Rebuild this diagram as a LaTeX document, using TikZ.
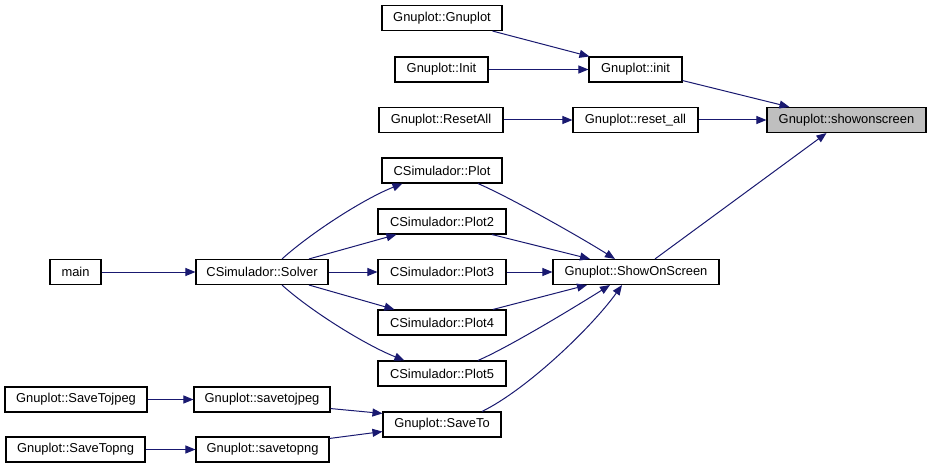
\documentclass[tikz,border=0pt]{standalone}
\usepackage{fontspec}
\setmainfont{Liberation Sans}
\usetikzlibrary{arrows.meta,calc}
\definecolor{edgeblue}{HTML}{191970}
\definecolor{hilite}{HTML}{BFBFBF}
\begin{document}
\begin{tikzpicture}[x=1pt,y=-1pt,
  fn/.style={draw=black,fill=white,line width=1.1pt,inner sep=0pt,minimum height=25pt,
    font=\fontsize{12.9}{15}\selectfont},
  edge/.style={draw=edgeblue,line width=1pt,-{Triangle[length=10pt,width=8pt]}}]
\useasboundingbox (0,0) rectangle (931,468);
% nodes
\node[fn,minimum width=120pt] (gg) at (442,18) {Gnuplot::Gnuplot};
\node[fn,minimum width=93pt] (gi) at (441.5,69.5) {Gnuplot::Init};
\node[fn,minimum width=93pt] (ginit) at (635.5,69.5) {Gnuplot::init};
\node[fn,minimum width=124pt] (gra) at (441,120) {Gnuplot::ResetAll};
\node[fn,minimum width=125pt] (grall) at (635.5,120) {Gnuplot::reset\_all};
\node[fn,minimum width=159pt,fill=hilite] (gsos) at (846.5,120) {Gnuplot::showonscreen};
\node[fn,minimum width=120pt] (p1) at (442,170.5) {CSimulador::Plot};
\node[fn,minimum width=128pt] (p2) at (442,221.5) {CSimulador::Plot2};
\node[fn,minimum width=128pt] (p3) at (442,272) {CSimulador::Plot3};
\node[fn,minimum width=128pt] (p4) at (442,322.5) {CSimulador::Plot4};
\node[fn,minimum width=128pt] (p5) at (442,373.5) {CSimulador::Plot5};
\node[fn,minimum width=51pt] (main) at (75.5,272) {main};
\node[fn,minimum width=132pt] (solver) at (262,272) {CSimulador::Solver};
\node[fn,minimum width=166pt] (sos) at (636,272) {Gnuplot::ShowOnScreen};
\node[fn,minimum width=142pt] (sjpeg) at (76,399.5) {Gnuplot::SaveTojpeg};
\node[fn,minimum width=136pt] (ljpeg) at (262,399.5) {Gnuplot::savetojpeg};
\node[fn,minimum width=118pt] (saveto) at (442,424.5) {Gnuplot::SaveTo};
\node[fn,minimum width=139pt] (spng) at (75.5,449.5) {Gnuplot::SaveTopng};
\node[fn,minimum width=133pt] (lpng) at (262.5,449.5) {Gnuplot::savetopng};
% edges
\draw[edge] ([xshift=-10pt]gg.south east) -- ([xshift=1pt]ginit.north west);
\draw[edge] (gi.east) -- (ginit.west);
\draw[edge] ($(ginit.south east)+(0,-2)$) -- ([xshift=23pt]gsos.north west);
\draw[edge] (gra.east) -- (grall.west);
\draw[edge] (grall.east) -- (gsos.west);
\draw[edge] ([xshift=19pt]sos.north) -- ([xshift=-20pt]gsos.south);
\draw[edge] (main.east) -- (solver.west);
\draw[edge] ([xshift=20pt]solver.north) .. controls +(30,-27) and +(-38,15) .. ([xshift=21pt]p1.south west);
\draw[edge] ([xshift=47pt]solver.north) -- ([xshift=19pt]p2.south west);
\draw[edge] (solver.east) -- (p3.west);
\draw[edge] ([xshift=47pt]solver.south) -- ([xshift=17pt]p4.north west);
\draw[edge] ([xshift=20pt]solver.south) .. controls +(30,27) and +(-38,-15) .. ([xshift=27pt]p5.north west);
\draw[edge] ([xshift=36pt]p1.south) .. controls +(30,13) and +(-40,-25) .. ([xshift=-21pt]sos.north);
\draw[edge] ([xshift=50pt]p2.south) -- ([xshift=-46pt]sos.north);
\draw[edge] (p3.east) -- (sos.west);
\draw[edge] ([xshift=51pt]p4.north) -- ([xshift=-49pt]sos.south);
\draw[edge] ([xshift=36pt]p5.north) .. controls +(30,-13) and +(-40,25) .. ([xshift=-26pt]sos.south);
\draw[edge] ([xshift=40pt]saveto.north) .. controls +(45,-22) and +(-30,42) .. ([xshift=-14pt]sos.south);
\draw[edge] (sjpeg.east) -- (ljpeg.west);
\draw[edge] ($(ljpeg.south east)+(0,-4)$) -- ($(saveto.north west)+(0,2)$);
\draw[edge] (spng.east) -- (lpng.west);
\draw[edge] ($(lpng.north east)+(0,2)$) -- ($(saveto.south west)+(0,-6)$);
\end{tikzpicture}
\end{document}
